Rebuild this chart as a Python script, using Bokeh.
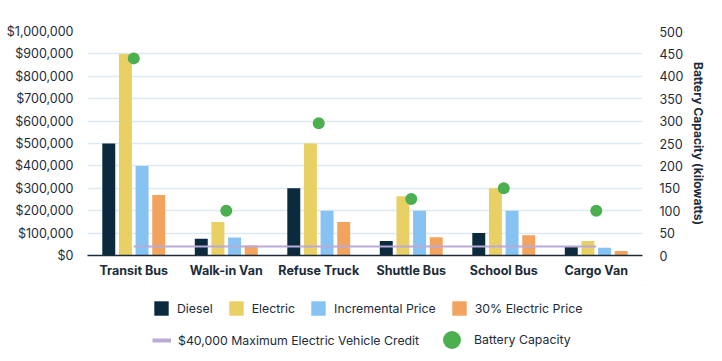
from bokeh.plotting import figure
from bokeh.layouts import column
from bokeh.models import (ColumnDataSource, Range1d, LinearAxis, NumeralTickFormatter,
                          SingleIntervalTicker, Legend, LegendItem, FactorRange)
from bokeh.transform import dodge
from bokeh.embed import file_html
from bokeh.resources import INLINE

categories = ["Transit Bus", "Walk-in Van", "Refuse Truck", "Shuttle Bus", "School Bus", "Cargo Van"]
diesel = [500000, 75000, 300000, 65000, 100000, 40000]
electric = [900000, 150000, 500000, 265000, 300000, 65000]
incremental = [400000, 80000, 200000, 200000, 200000, 35000]
electric30 = [270000, 45000, 150000, 82000, 90000, 20000]
battery = [440, 100, 295, 126, 150, 100]
credit = [40000] * 6

FONT = "Inter"
TXT = "#1c2b39"
AX_FS = "12.5px"
LG_FS = "12.3px"
C_DIESEL, C_ELEC, C_INC, C_30 = "#0c2a3e", "#e8d064", "#86c2f2", "#f2a35e"
C_GREEN, C_LINE = "#4caf50", "#b9aad8"
W = 709

src = ColumnDataSource(dict(cat=categories, diesel=diesel, electric=electric,
                            incremental=incremental, electric30=electric30,
                            battery=battery, credit=credit))

p = figure(width=W, height=285, x_range=FactorRange(*categories, range_padding=0),
           y_range=Range1d(0, 1000000), output_backend="svg", toolbar_location=None,
           min_border_left=87, min_border_right=W - 647, min_border_top=31, min_border_bottom=30)
p.outline_line_color = None
p.extra_y_ranges = {"battery": Range1d(0, 500)}

bw = 0.14
p.vbar(x=dodge("cat", -0.27, range=p.x_range), top="diesel", width=bw, source=src,
       fill_color=C_DIESEL, line_color=None)
p.vbar(x=dodge("cat", -0.09, range=p.x_range), top="electric", width=bw, source=src,
       fill_color=C_ELEC, line_color=None)
p.vbar(x=dodge("cat", 0.09, range=p.x_range), top="incremental", width=bw, source=src,
       fill_color=C_INC, line_color=None)
p.vbar(x=dodge("cat", 0.27, range=p.x_range), top="electric30", width=bw, source=src,
       fill_color=C_30, line_color=None)
p.line(x="cat", y="credit", source=src, line_color=C_LINE, line_width=2)
p.scatter(x="cat", y="battery", source=src, y_range_name="battery", size=12,
          fill_color=C_GREEN, line_color=None)

# axes
p.yaxis.ticker = SingleIntervalTicker(interval=100000)
p.yaxis.formatter = NumeralTickFormatter(format="$0,0")
p.yaxis.axis_line_color = None
p.yaxis.major_tick_line_color = None
p.yaxis.minor_tick_line_color = None
p.yaxis.major_tick_out = 0
p.yaxis.major_label_standoff = 10
p.yaxis.major_label_text_font = FONT
p.yaxis.major_label_text_font_size = AX_FS
p.yaxis.major_label_text_color = TXT

p.xaxis.axis_line_color = "#1c2b39"
p.xaxis.axis_line_width = 1.5
p.xaxis.major_tick_line_color = None
p.xaxis.major_tick_out = 0
p.xaxis.major_label_standoff = 7
p.xaxis.major_label_text_font = FONT
p.xaxis.major_label_text_font_style = "bold"
p.xaxis.major_label_text_font_size = AX_FS
p.xaxis.major_label_text_color = TXT

ax2 = LinearAxis(y_range_name="battery", ticker=SingleIntervalTicker(interval=50),
                 axis_label="Battery Capacity (kilowatts)")
ax2.axis_line_color = None
ax2.major_tick_line_color = None
ax2.minor_tick_line_color = None
ax2.major_tick_out = 0
ax2.major_label_standoff = 13
ax2.major_label_text_font = FONT
ax2.major_label_text_font_size = AX_FS
ax2.major_label_text_color = TXT
ax2.axis_label_text_font = FONT
ax2.axis_label_text_font_style = "bold"
ax2.axis_label_text_font_size = "12px"
ax2.axis_label_text_color = TXT
ax2.axis_label_standoff = 5
p.add_layout(ax2, "right")

p.xgrid.grid_line_color = None
p.ygrid.grid_line_color = "#dfe9f3"
p.ygrid.grid_line_width = 1.5
p.ygrid.ticker = SingleIntervalTicker(interval=100000)

# legend panel (its frame aligns with the main frame)
lf = figure(width=W, height=68, x_range=Range1d(0, 1), y_range=Range1d(0, 1),
            x_axis_type=None, y_axis_type=None, output_backend="svg", toolbar_location=None,
            min_border_left=87, min_border_right=W - 647, min_border_top=0, min_border_bottom=0)
lf.outline_line_color = None
lf.xgrid.visible = False
lf.ygrid.visible = False
# off-range proxy glyphs, used only for legend swatches
d1 = lf.vbar(x=[9], top=[9], bottom=[8], width=0.1, fill_color=C_DIESEL, line_color=None)
d2 = lf.vbar(x=[9], top=[9], bottom=[8], width=0.1, fill_color=C_ELEC, line_color=None)
d3 = lf.vbar(x=[9], top=[9], bottom=[8], width=0.1, fill_color=C_INC, line_color=None)
d4 = lf.vbar(x=[9], top=[9], bottom=[8], width=0.1, fill_color=C_30, line_color=None)
d5 = lf.line(x=[8, 9], y=[9, 9], line_color=C_LINE, line_width=4)
d6 = lf.scatter(x=[9], y=[9], fill_color=C_GREEN, line_color=None)


def mk_legend(items, loc, gw, gh, standoff, spacing):
    lg = Legend(items=items, location=loc, orientation="horizontal",
                glyph_width=gw, glyph_height=gh, label_standoff=standoff, spacing=spacing,
                padding=0, margin=0, border_line_color=None, background_fill_alpha=0,
                label_text_font=FONT, label_text_font_size=LG_FS, label_text_color=TXT,
                label_height=min(gh, 16))
    lf.add_layout(lg, "center")


mk_legend([LegendItem(label="Diesel", renderers=[d1]),
           LegendItem(label="Electric", renderers=[d2]),
           LegendItem(label="Incremental Price", renderers=[d3]),
           LegendItem(label="30% Electric Price", renderers=[d4])],
          (65, 36), 18, 18, 7, 14)
mk_legend([LegendItem(label="$40,000 Maximum Electric Vehicle Credit", renderers=[d5])],
          (65, 5), 19, 16, 7, 0)
mk_legend([LegendItem(label="Battery Capacity", renderers=[d6])],
          (342, -9), 45, 45, -1, 0)

layout = column(p, lf, spacing=0)
open("out.html", "w").write(file_html(layout, INLINE))
